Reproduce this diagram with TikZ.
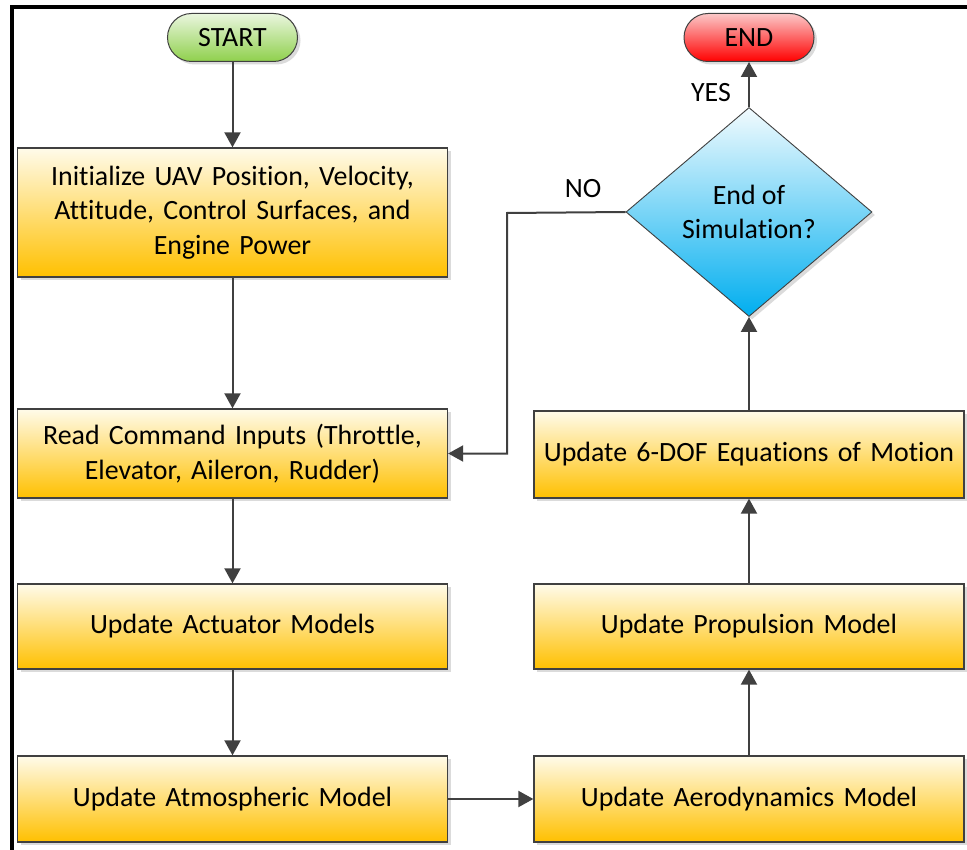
\documentclass[tikz,border=0pt]{standalone}
\usepackage{fontspec}
\setmainfont{Carlito}[Ligatures=NoCommon]
\usetikzlibrary{arrows.meta,shapes.geometric,shadows}
\definecolor{edge}{HTML}{404040}
\definecolor{boxtop}{HTML}{FFFBEA}
\definecolor{boxbot}{HTML}{FFC000}
\definecolor{gtop}{HTML}{EAF6DF}
\definecolor{gbot}{HTML}{8FD04C}
\definecolor{rtop}{HTML}{FBC8C8}
\definecolor{rbot}{HTML}{FF0000}
\definecolor{btop}{HTML}{F2FBFE}
\definecolor{bbot}{HTML}{00AEEF}
\begin{document}
\begin{tikzpicture}[x=1pt,y=-1pt,
  shade/.style={drop shadow={shadow xshift=3pt,shadow yshift=-3pt,fill=black!14,opacity=1}},
  txt/.style={font=\fontsize{27.9}{34.5}\selectfont},
  box/.style={txt,shade,draw=edge,line width=1.3pt,top color=boxtop,bottom color=boxbot,
    minimum width=430pt,text width=426pt,align=center,inner sep=0pt},
  term/.style={txt,shade,draw=edge,line width=1pt,rounded corners=24pt,
    minimum width=130pt,minimum height=48pt,inner sep=0pt},
  decision/.style={txt,shade,diamond,draw=edge,line width=0.9pt,top color=btop,bottom color=bbot,
    minimum width=246pt,minimum height=209pt,inner sep=0pt,align=center},
  arr/.style={draw=edge,line width=2pt,-{Triangle[length=15pt,width=16pt]}},
  lbl/.style={txt,inner sep=0pt}
]
\useasboundingbox (0,0) rectangle (967,850);
% frame
\draw[line width=4pt,black] (12,850) -- (12,7) -- (967,7);

\node[term,top color=gtop,bottom color=gbot] (start) at (232.5,37.5) {START};
\node[term,top color=rtop,bottom color=rbot] (end) at (749,37.5) {END};

\node[box,minimum height=129pt] (init) at (232.5,212.5)
  {Initialize UAV Position, Velocity,\\Attitude, Control Surfaces, and\\Engine Power};
\node[box,minimum height=89pt] (read) at (232.5,453.5)
  {Read Command Inputs (Throttle,\\Elevator, Aileron, Rudder)};
\node[box,minimum height=85pt] (act) at (232.5,626.5) {Update Actuator Models};
\node[box,minimum height=86pt] (atm) at (232.5,799) {Update Atmospheric Model};

\node[box,minimum height=86pt] (aero) at (749,799) {Update Aerodynamics Model};
\node[box,minimum height=85pt] (prop) at (749,626.5) {Update Propulsion Model};
\node[box,minimum height=87pt] (eom) at (749,454.5) {Update 6-DOF Equations of Motion};

\node[decision] (dec) at (749,212) {End of\\Simulation?};

\node[lbl] (yes) at (711,93) {YES};
\node[lbl] (no) at (583,189) {NO};

\coordinate (nobend) at (507,213);

\draw[arr] (start.south) -- (init.north);
\draw[arr] (init.south) -- (read.north);
\draw[arr] (read.south) -- (act.north);
\draw[arr] (act.south) -- (atm.north);
\draw[arr] (atm.east) -- (aero.west);
\draw[arr] (aero.north) -- (prop.south);
\draw[arr] (prop.north) -- (eom.south);
\draw[arr] (eom.north) -- (dec.south);
\draw[arr] (dec.north) -- (end.south);
\draw[arr] (dec.west) -- (nobend) |- (read.east);
\end{tikzpicture}
\end{document}
